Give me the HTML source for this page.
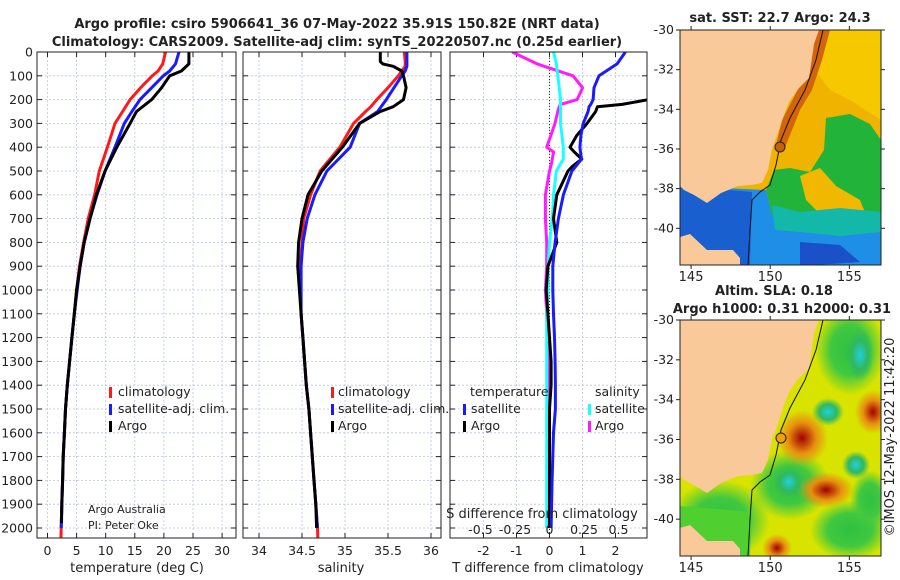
<!DOCTYPE html>
<html><head><meta charset="utf-8"><style>
html,body{margin:0;padding:0;background:#fff;}
svg{display:block;font-family:"DejaVu Sans","Liberation Sans",sans-serif;}
</style></head><body>
<svg id="fig" width="900" height="580" viewBox="0 0 900 580"></svg>
<script>
// ===== data =====
const depthT = [0,50,80,100,150,200,250,300,400,500,600,700,800,900,1000,1100,1200,1300,1400,1500,1600,1700,1800,1900,2000];
const tempClim = [20.3,19.8,19.0,18.0,16.0,14.2,12.9,11.6,10.3,8.9,8.1,7.0,6.2,5.5,5.0,4.6,4.2,3.8,3.4,3.1,2.9,2.7,2.6,2.45,2.35];
const tempSat  = [22.6,22.0,21.0,19.9,17.9,15.9,14.5,13.2,11.6,9.9,8.5,7.3,6.3,5.6,5.1,4.6,4.2,3.8,3.4,3.1,2.9,2.7,2.6,2.45,2.35];
const tempArgo = [24.3,24.3,23.0,21.0,19.6,17.9,15.3,14.2,11.9,9.9,8.4,7.3,6.3,5.6,5.0,4.6,4.2,3.8,3.4,3.1,2.9,2.7,2.6,2.45,2.4];
const depthS = [0,40,50,60,80,100,150,200,230,250,300,400,500,600,700,800,900,1000,1100,1200,1300,1400,1500,1600,1700,1800,1900,2000];
const salClim = [35.69,35.7,35.7,35.7,35.66,35.62,35.5,35.37,35.3,35.24,35.1,34.94,34.71,34.6,34.52,34.5,34.48,34.48,34.49,34.51,34.53,34.55,34.58,34.6,34.62,34.64,34.66,34.68];
const salSat  = [35.72,35.72,35.72,35.72,35.7,35.66,35.57,35.48,35.42,35.38,35.17,35.06,34.79,34.65,34.56,34.51,34.49,34.49,34.49,34.51,34.53,34.55,34.58,34.6,34.62,34.64,34.66,34.68];
const salArgo = [35.41,35.41,35.44,35.56,35.66,35.68,35.71,35.68,35.56,35.41,35.17,34.97,34.73,34.57,34.5,34.46,34.45,34.47,34.49,34.51,34.53,34.55,34.58,34.6,34.62,34.64,34.66,34.67];
const depthD = [0,50,100,150,200,220,230,250,300,350,400,420,450,480,500,600,700,800,900,1000,1100,1200,1300,1400,1500,1600,1800,2000];
const tDiffSat  = [2.3,2.05,1.5,1.35,1.32,1.25,1.2,1.17,1.02,0.95,0.92,0.94,0.97,0.8,0.68,0.42,0.27,0.17,0.1,0.1,0.12,0.15,0.17,0.18,0.18,0.12,0.08,0.05];
const tDiffArgo = [4.0,4.0,3.6,3.3,3.0,2.2,1.45,1.4,1.14,0.83,0.62,0.75,0.98,0.7,0.56,0.22,0.12,0.22,-0.05,-0.1,-0.05,0,0.05,0.05,0,0,0,0];
const sDiffSat  = [0.03,0.05,0.06,0.07,0.08,0.08,0.08,0.08,0.08,0.09,0.1,0.1,0.1,0.07,0.05,0.03,0.02,0.0,-0.01,-0.01,-0.02,-0.02,-0.02,-0.02,-0.02,-0.02,-0.02,-0.02];
const sDiffArgo = [-0.27,-0.09,0.17,0.24,0.2,0.08,0.07,0.06,0.04,0.01,-0.02,0.03,0.02,0.01,0,-0.03,-0.03,-0.02,-0.02,-0.03,-0.02,-0.01,-0.01,0,0,0,0,0];
const depthTicks = [0,100,200,300,400,500,600,700,800,900,1000,1100,1200,1300,1400,1500,1600,1700,1800,1900,2000];
const tempTicks = [0,5,10,15,20,25,30];
const salTicks = [34,34.5,35,35.5,36];
const tDiffTicks = [-2,-1,0,1,2];
const sDiffTickLabels = ["-0.5","-0.25","0","0.25","0.5"];
const sDiffTicks = [-0.5,-0.25,0,0.25,0.5];
const latTicks = [-30,-32,-34,-36,-38,-40];
const lonTicks = [145,150,155];

// ===== helpers =====
const NS="http://www.w3.org/2000/svg";
const fig=document.getElementById('fig');
function mk(tag,attrs,parent){const e=document.createElementNS(NS,tag);for(const k in attrs)e.setAttribute(k,attrs[k]);(parent||fig).appendChild(e);return e;}
function txt(s,x,y,attrs,parent){const e=mk('text',Object.assign({x:x,y:y,'font-size':12.5,fill:'#222'},attrs||{}),parent);e.textContent=s;return e;}
const Y0=52, Y1=538;
const yD=d=>Y0+d*(476/2000);
const xT=t=>47.5+t*5.82;
const xS=s=>259+(s-34)*86;
const xTD=t=>549.5+t*33;
const xSD=s=>549.5+s*138;

function panel(x0,x1,name){
  const g=mk('g',{});
  
  
  mk('rect',{x:x0,y:Y0,width:x1-x0,height:Y1-Y0,fill:'#fff'},g);
  const cp=mk('clipPath',{id:'cp'+name},g);
  mk('rect',{x:x0,y:Y0,width:x1-x0,height:Y1-Y0},cp);
  depthTicks.forEach(d=>{
    const l=mk('line',{x1:x0,x2:x1,y1:yD(d),y2:yD(d),stroke:'#b9c3e6','stroke-width':0.8,'stroke-dasharray':'2,2'},g);
    
    
    mk('line',{x1:x0,x2:x0+5,y1:yD(d),y2:yD(d),stroke:'#222'},g);
    mk('line',{x1:x1-5,x2:x1,y1:yD(d),y2:yD(d),stroke:'#222'},g);
  });
  return g;
}
function vgrid(g,vals,fx,x0,x1,labels,ly){
  vals.forEach((v,i)=>{
    const x=fx(v);
    const l=mk('line',{x1:x,x2:x,y1:Y0,y2:Y1,stroke:'#b9c3e6','stroke-width':0.8,'stroke-dasharray':'2,2'},g);
    
    
    mk('line',{x1:x,x2:x,y1:Y1-5,y2:Y1,stroke:'#222'},g);
    mk('line',{x1:x,x2:x,y1:Y0,y2:Y0+5,stroke:'#222'},g);
    if(labels){const t=txt(labels[i],x,ly,{'text-anchor':'middle'},g);
      
      }
  });
}
function line(g,xs,ds,fx,color,name,clip){
  const pts=xs.map((v,i)=>fx(v).toFixed(1)+','+yD(ds[i]).toFixed(1)).join(' ');
  const p=mk('polyline',{points:pts,fill:'none',stroke:color,'stroke-width':3,'stroke-linejoin':'round','clip-path':'url(#'+clip+')'},g);
  
  
  return p;
}
function frame(g,x0,x1){mk('rect',{x:x0,y:Y0,width:x1-x0,height:Y1-Y0,fill:'none',stroke:'#222','stroke-width':1},g);}
function legendMark(g,x,y,color){mk('rect',{x:x,y:y-9,width:3,height:11,fill:color},g);}

// titles
let t=txt('Argo profile: csiro 5906641_36 07-May-2022 35.91S 150.82E (NRT data)',337,28,{'text-anchor':'middle','font-weight':'bold','font-size':13});


t=txt('Climatology: CARS2009. Satellite-adj clim: synTS_20220507.nc (0.25d earlier)',337,46,{'text-anchor':'middle','font-weight':'bold','font-size':13});



// depth labels
depthTicks.forEach(d=>{const e=txt(String(d),33,yD(d)+4.5,{'text-anchor':'end'});
  
  });

// panel 1 temperature
let g1=panel(37,236,'temperature-panel');
vgrid(g1,tempTicks,xT,37,236,tempTicks.map(String),555);
line(g1,tempClim.concat([2.3]),depthT.concat([2045]),xT,'#ff1a1a','temperature-climatology-line','cptemperature-panel');
line(g1,tempSat,depthT,xT,'#1a1aff','temperature-satellite-line','cptemperature-panel');
line(g1,tempArgo.slice(0,-1).concat([2.4]),depthT.slice(0,-1).concat([1980]),xT,'#000','temperature-argo-line','cptemperature-panel');
frame(g1,37,236);
legendMark(g1,109,396,'#ff1a1a');txt('climatology',118,396,{},g1);
legendMark(g1,109,413,'#1a1aff');txt('satellite-adj. clim.',118,413,{},g1);
legendMark(g1,109,430,'#000');txt('Argo',118,430,{},g1);
txt('Argo Australia',88,513,{'font-size':11},g1);
txt('PI: Peter Oke',88,529,{'font-size':11},g1);
t=txt('temperature (deg C)',137,572,{'text-anchor':'middle','font-size':13},g1);


// panel 2 salinity
let g2=panel(243,441,'salinity-panel');
vgrid(g2,salTicks,xS,243,441,salTicks.map(String),555);
line(g2,salClim.concat([34.685]),depthS.concat([2045]),xS,'#ff1a1a','salinity-climatology-line','cpsalinity-panel');
line(g2,salSat,depthS,xS,'#1a1aff','salinity-satellite-line','cpsalinity-panel');
line(g2,salArgo,depthS,xS,'#000','salinity-argo-line','cpsalinity-panel');
frame(g2,243,441);
legendMark(g2,331,396,'#ff1a1a');txt('climatology',338,396,{},g2);
legendMark(g2,331,413,'#1a1aff');txt('satellite-adj. clim.',338,413,{},g2);
legendMark(g2,331,430,'#000');txt('Argo',338,430,{},g2);
t=txt('salinity',341,572,{'text-anchor':'middle','font-size':13},g2);


// panel 3 differences
let g3=panel(450,647,'difference-panel');
vgrid(g3,tDiffTicks,xTD,450,647,tDiffTicks.map(String),555);
mk('line',{x1:xTD(0),x2:xTD(0),y1:Y0,y2:Y1,stroke:'#333','stroke-width':1,'stroke-dasharray':'1,2'},g3);
line(g3,sDiffArgo,depthD,xSD,'#ff1aff','salinity-diff-argo-line','cpdifference-panel');
line(g3,sDiffSat,depthD,xSD,'#1affff','salinity-diff-satellite-line','cpdifference-panel');
line(g3,tDiffArgo,depthD,xTD,'#000','temperature-diff-argo-line','cpdifference-panel');
line(g3,tDiffSat,depthD,xTD,'#1a1aff','temperature-diff-satellite-line','cpdifference-panel');
frame(g3,450,647);
txt('temperature',470,396,{},g3);txt('salinity',595,396,{},g3);
legendMark(g3,463,413,'#1a1aff');txt('satellite',471,413,{},g3);
legendMark(g3,463,430,'#000');txt('Argo',471,430,{},g3);
legendMark(g3,588,413,'#1affff');txt('satellite',595,413,{},g3);
legendMark(g3,588,430,'#ff1aff');txt('Argo',595,430,{},g3);
txt('S difference from climatology',542,518,{'text-anchor':'middle','font-size':13},g3);
sDiffTicks.forEach((v,i)=>{const e=txt(sDiffTickLabels[i],xSD(v),534,{'text-anchor':'middle'},g3);
  });
t=txt('T difference from climatology',548,572,{'text-anchor':'middle','font-size':13},g3);


// ===== maps =====
function mapAxes(x0,y0,x1,y1,g){
  const py=(y1-y0)/11.85;
  latTicks.forEach(l=>{const y=y0+(-30-l)*py;
    mk('line',{x1:x0-4,x2:x0,y1:y,y2:y,stroke:'#222'},g);mk('line',{x1:x1,x2:x1+4,y1:y,y2:y,stroke:'#222'},g);
    const e=txt(String(l),x0-6,y+4,{'text-anchor':'end'},g);
    });
  const px=(x1-x0)/12.7;
  lonTicks.forEach(l=>{const x=x0+(l-144.3)*px;
    mk('line',{x1:x,x2:x,y1:y1,y2:y1+4,stroke:'#222'},g);mk('line',{x1:x,x2:x,y1:y0-4,y2:y0,stroke:'#222'},g);
    const e=txt(String(l),x,y1+16,{'text-anchor':'middle','font-size':13},g);
    });
  mk('rect',{x:x0,y:y0,width:x1-x0,height:y1-y0,fill:'none',stroke:'#222'},g);
}
const LAND='#f9c99a';
function coast(dy){return `M680,${30+dy} L819,${30+dy} L814,${44+dy} L809,${78+dy} L799,${88+dy} L789,${102+dy} L784,${115+dy} L777,${136+dy} L772,${149+dy} L768,${170+dy} L762,${183+dy} L751,${185+dy} L738,${186+dy} L721,${193+dy} L707,${203+dy} L694,${195+dy} L684,${190+dy} L680,${186+dy} Z`;}
function tas(dy){return `M680,${237+dy} L690,${234+dy} L707,${250+dy} L733,${250+dy} L740,${258+dy} L740,${266+dy} L680,${266+dy} Z`;}
function shelf(dy){return `M823,${30+dy} L816,${60+dy} L805,${90+dy} L790,${118+dy} L781,${140+dy} L776,${165+dy} L770,${185+dy} L760,${192+dy} L752,${200+dy} L750,${230+dy} L748,${266+dy}`;}

// map 1 SST
const m1=mk('g',{});


t=txt('sat. SST: 22.7 Argo: 24.3',780,22,{'text-anchor':'middle','font-weight':'bold','font-size':13},m1);

const cp1=mk('clipPath',{id:'m1c'},m1);mk('rect',{x:680,y:30,width:201,height:235},cp1);
const m1b=mk('g',{'clip-path':'url(#m1c)'},m1);
mk('rect',{x:680,y:30,width:201,height:235,fill:'#f0b400'},m1b);
mk('path',{d:'M819,30 L881,30 L881,120 L850,100 L830,90 L815,70 Z',fill:'#f5c800'},m1b);
mk('path',{d:'M812,30 L830,30 L822,60 L812,90 L800,110 L790,135 L784,150 L775,150 L782,120 L795,95 L805,75 Z',fill:'#d2650a'},m1b);
mk('path',{d:'M826,118 L850,114 L870,124 L881,140 L881,218 L840,214 L800,222 L772,215 L766,190 L774,170 L790,168 L810,172 L824,150 Z',fill:'#22b43a'},m1b);
mk('path',{d:'M800,176 L820,168 L836,186 L860,200 L866,215 L820,214 L806,200 Z',fill:'#f0b800'},m1b);
mk('path',{d:'M680,186 L766,190 L772,215 L800,222 L840,214 L881,218 L881,266 L680,266 Z',fill:'#1e8ee6'},m1b);
mk('path',{d:'M772,205 L800,212 L840,208 L881,212 L881,232 L840,236 L800,232 L775,230 Z',fill:'#14b8a8'},m1b);
mk('path',{d:'M680,186 L752,192 L750,266 L680,266 Z',fill:'#1a5fd0'},m1b);
mk('path',{d:'M800,242 L840,245 L860,262 L800,266 Z',fill:'#1a50c8'},m1b);
mk('path',{d:coast(0),fill:LAND},m1b);
mk('path',{d:tas(0),fill:LAND},m1b);
mk('path',{d:shelf(0),fill:'none',stroke:'#111','stroke-width':1},m1b);
const c1=mk('circle',{cx:780,cy:147,r:5,fill:'#c8600a',stroke:'#222'},m1b);

mapAxes(680,30,881,265,m1);

// map 2 SLA
const m2=mk('g',{});


t=txt('Altim. SLA: 0.18',774,295,{'text-anchor':'middle','font-weight':'bold','font-size':13},m2);

t=txt('Argo h1000: 0.31 h2000: 0.31',782,313,{'text-anchor':'middle','font-weight':'bold','font-size':13},m2);

const defs=mk('defs',{},m2);
function grad(id,c1,c2){const r=mk('radialGradient',{id:id},defs);mk('stop',{offset:'0%','stop-color':c1},r);mk('stop',{offset:'55%','stop-color':c2},r);mk('stop',{offset:'100%','stop-color':c2,'stop-opacity':0},r);}
grad('gRed','#a00000','#e89010');grad('gCyan','#20d0e0','#30b860');grad('gGreen','#30c040','#40c840');
const cp2=mk('clipPath',{id:'m2c'},m2);mk('rect',{x:680,y:320,width:201,height:236},cp2);
const m2b=mk('g',{'clip-path':'url(#m2c)'},m2);
mk('rect',{x:680,y:320,width:201,height:236,fill:'#d8e400'},m2b);
[[850,350,35,45],[790,485,40,35],[850,530,40,30],[870,500,20,30],[720,520,50,40]].forEach(b=>mk('ellipse',{cx:b[0],cy:b[1],rx:b[2],ry:b[3],fill:'url(#gGreen)'},m2b));
[[860,355,14,26],[828,412,16,14],[856,465,14,14],[789,482,16,16]].forEach(b=>mk('ellipse',{cx:b[0],cy:b[1],rx:b[2],ry:b[3],fill:'url(#gCyan)'},m2b));
[[802,438,26,28],[873,412,18,22],[826,490,28,18],[777,548,15,14]].forEach(b=>mk('ellipse',{cx:b[0],cy:b[1],rx:b[2],ry:b[3],fill:'url(#gRed)'},m2b));
mk('path',{d:'M680,506 L752,512 L750,556 L680,556 Z',fill:'#50d030'},m2b);
mk('path',{d:coast(290),fill:LAND},m2b);
mk('path',{d:tas(291),fill:LAND},m2b);
mk('path',{d:shelf(290),fill:'none',stroke:'#111','stroke-width':1},m2b);
const c2=mk('circle',{cx:781,cy:438,r:5,fill:'#f0a000',stroke:'#222'},m2b);

mapAxes(680,320,881,556,m2);
t=txt('©IMOS 12-May-2022 11:42:20',0,0,{'font-size':13,'text-anchor':'middle',transform:'translate(894,437) rotate(-90)'});

</script>
</body></html>
